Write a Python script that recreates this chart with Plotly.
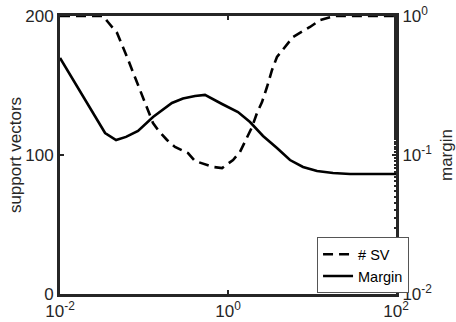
import plotly.graph_objects as go

# ---- data ----
sv_C = [0.01, 0.0325, 0.0372, 0.0478, 0.0628, 0.0826, 0.1086, 0.128, 0.1469,
        0.1879, 0.2339, 0.3342, 0.4046, 0.6622, 0.8492, 1.148, 1.39, 1.683,
        1.932, 2.213, 2.541, 2.911, 3.342, 3.828, 5.176, 5.943, 9.462, 12.45,
        18.79, 100]
sv_count = [200, 200, 195.7, 187.8, 170.5, 151.8, 134.5, 123.0, 118.0, 110.8,
            105.8, 101.4, 95.7, 91.4, 90.6, 96.4, 102.2, 112.2, 120.1, 130.2,
            138.1, 148.9, 161.2, 170.5, 180.6, 184.9, 192.1, 197.1, 200, 200]

margin_C = [0.01, 0.0344, 0.0465, 0.0611, 0.0849, 0.128, 0.215, 0.291, 0.405,
            0.532, 0.849, 1.315, 1.828, 2.612, 3.828, 5.47, 7.816, 11.48,
            17.78, 28.31, 100]
margin_val = [0.499, 0.144, 0.128, 0.135, 0.149, 0.1875, 0.2366, 0.2547,
              0.2655, 0.2704, 0.2328, 0.2037, 0.1726, 0.1371, 0.1122, 0.0920,
              0.0820, 0.0767, 0.0743, 0.0730, 0.0730]

x_tickvals = [0.01, 1, 100]
x_ticktext = ["10<sup>-2</sup>", "10<sup>0</sup>", "10<sup>2</sup>"]
y_tickvals = [0, 100, 200]
y2_tickvals = [0.01, 0.1, 1]
y2_ticktext = ["10<sup>-2</sup>", "10<sup>-1</sup>", "10<sup>0</sup>"]

FONT = "Liberation Sans, Arial, sans-serif"
AX = "#262626"

fig = go.Figure()
fig.add_trace(go.Scatter(x=sv_C, y=sv_count, mode="lines", name="# SV",
                         line=dict(color="black", width=2.6, dash="10px,6px"),
                         yaxis="y"))
fig.add_trace(go.Scatter(x=margin_C, y=margin_val, mode="lines", name="Margin",
                         line=dict(color="black", width=2.6),
                         yaxis="y2"))

fig.update_layout(
    width=456, height=322,
    margin=dict(l=60, r=60, t=16, b=28),
    paper_bgcolor="white", plot_bgcolor="white",
    font=dict(family=FONT, size=17, color=AX),
    xaxis=dict(type="log", range=[-2, 2], tickvals=x_tickvals, ticktext=x_ticktext,
               ticks="inside", ticklen=4, tickwidth=2, tickcolor=AX,
               showline=True, linewidth=3, linecolor=AX, mirror="ticks",
               showgrid=False, zeroline=False, tickfont=dict(size=17),
               ticklabelstandoff=0, automargin=False),
    yaxis=dict(range=[0, 200], tickvals=y_tickvals,
               ticks="inside", ticklen=4, tickwidth=2, tickcolor=AX,
               showline=True, linewidth=3, linecolor=AX,
               showgrid=False, zeroline=False, automargin=False,
               title=dict(text="support vectors", standoff=0, font=dict(size=17))),
    yaxis2=dict(type="log", range=[-2, 0], overlaying="y", side="right",
                tickvals=y2_tickvals, ticktext=y2_ticktext,
                ticks="inside", ticklen=4, tickwidth=2, tickcolor=AX,
                minor=dict(ticks="inside", ticklen=2, tickcolor=AX, showgrid=False),
                showline=True, linewidth=3, linecolor=AX,
                showgrid=False, zeroline=False, automargin=False,
                title=dict(text="margin", standoff=14, font=dict(size=17))),
    legend=dict(x=0.765, y=0.204, xanchor="left", yanchor="top",
                bgcolor="white", bordercolor="#555555", borderwidth=1,
                font=dict(family=FONT, size=14.5, color="black"),
                tracegroupgap=0, itemwidth=30),
    showlegend=True,
)

fig.write_html("out.html")
